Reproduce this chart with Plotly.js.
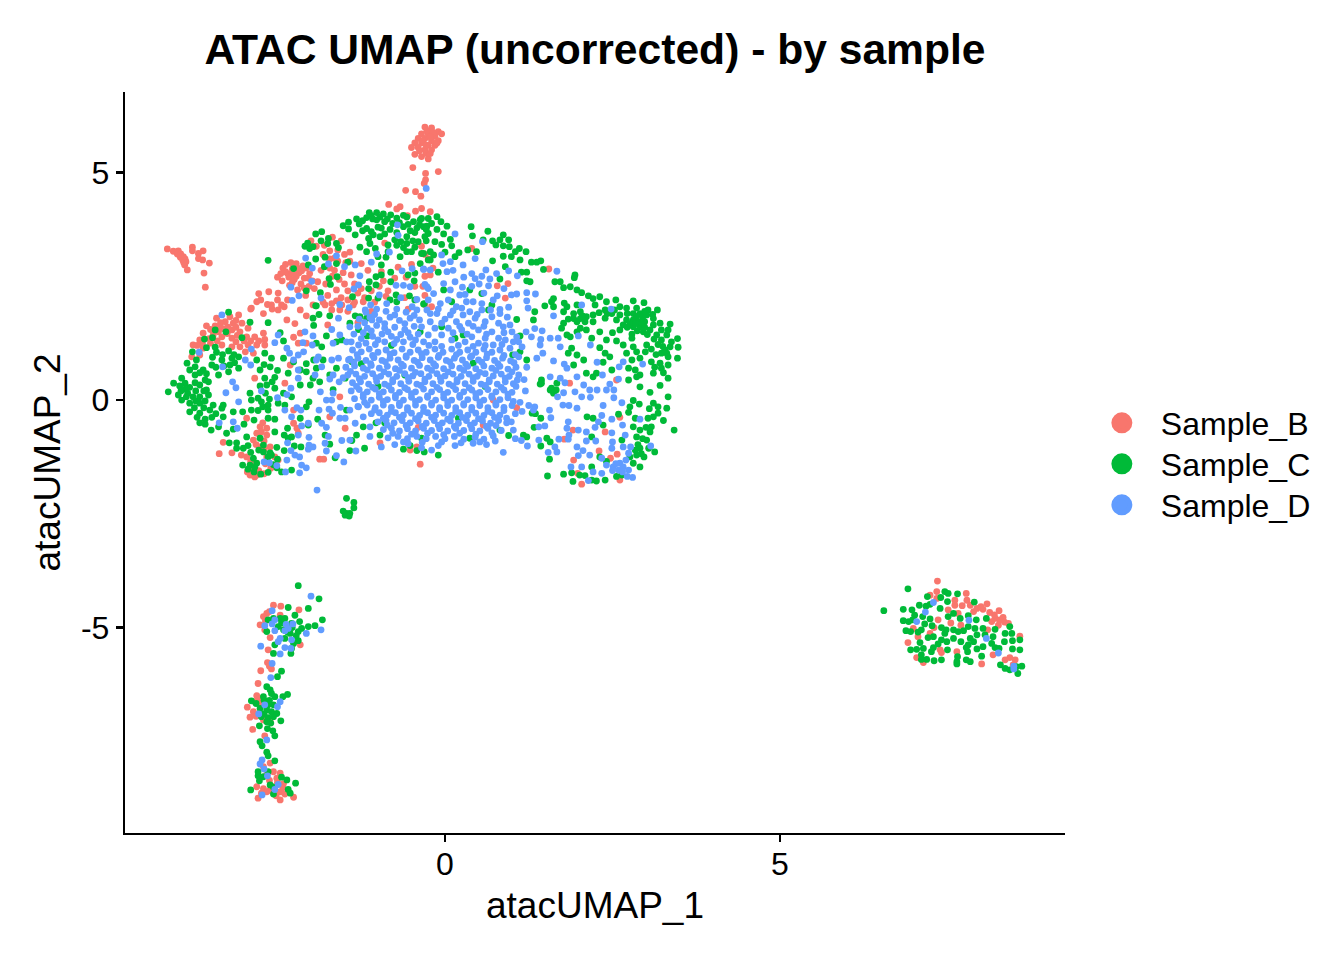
<!DOCTYPE html>
<html><head><meta charset="utf-8">
<script src="https://cdn.plot.ly/plotly-3.0.1.min.js"></script>
<style>html,body{margin:0;padding:0;background:#fff}#chart{width:1344px;height:960px}</style>
</head><body><div id="chart"></div>
<script>
const titleText = 'ATAC UMAP (uncorrected) - by sample';
const xLabel = 'atacUMAP_1';
const yLabel = 'atacUMAP_2';
const xTicks = [0, 5];
const xTickLabels = ['0', '5'];
const yTicks = [-5, 0, 5];
const yTickLabels = ['-5', '0', '5'];
const sampleNames = ['Sample_B', 'Sample_C', 'Sample_D'];
const sampleColors = ['#F8766D', '#00BA38', '#619CFF'];

const sampleB_top = [[-0.3,6.0],[-0.2,5.98],[-0.1,5.9],[-0.35,5.85],[-0.25,5.85],[-0.15,5.8],[-0.05,5.85],[-0.4,5.75],[-0.3,5.75],[-0.2,5.7],[-0.1,5.7],[-0.45,5.65],[-0.35,5.65],[-0.25,5.6],[-0.15,5.6],[-0.5,5.55],[-0.4,5.55],[-0.3,5.5],[-0.2,5.5],[-0.45,5.4],[-0.35,5.35],[-0.25,5.3],[-0.28,5.42],[-0.48,5.11],[-0.29,4.98],[-0.1,5.02],[-0.29,4.84],[-0.31,4.76],[-0.587,4.61],[-0.44,4.58],[-0.36,4.48],[-0.84,4.3],[-0.72,4.2],[-0.67,4.25],[-0.44,4.15],[-0.35,4.21],[-0.22,4.14],[-0.56,4.05],[-0.27,5.92],[-0.18,5.88],[-0.33,5.7],[-0.22,5.78],[-0.12,5.65],[-0.28,5.6],[-0.38,5.48],[-0.22,5.42]];
const sampleB_left = [[-4.144,3.32],[-4.055,3.27],[-3.98,3.28],[-3.995,3.21],[-3.945,3.21],[-3.905,3.15],[-3.915,3.08],[-3.866,3.04],[-3.885,2.97],[-3.846,2.86],[-3.77,3.36],[-3.77,3.28],[-3.68,3.22],[-3.61,3.28],[-3.68,3.11],[-3.617,3.08],[-3.517,3.01],[-3.597,2.79],[-3.577,2.48],[-3.95,3.14],[-3.88,3.1],[-3.9,3.02]];
const sampleB_upper = [[-2.43,2.62],[-2.5,2.7],[-2.35,2.78],[-2.28,2.88],[-2.22,3.0],[-2.3,3.02],[-2.42,2.9],[-2.12,2.95],[-2.18,2.8],[-2.25,2.65],[-2.1,2.68],[-2.02,2.78],[-2.15,2.55],[-2.03,2.5],[-2.32,2.52],[-2.2,2.42],[-2.08,2.3],[-1.95,2.45],[-2.65,2.1],[-2.78,2.34],[-2.75,2.2],[-2.63,2.38],[-2.49,2.35],[-2.5,2.2],[-2.4,2.05],[-2.58,2.0],[-2.35,2.2],[-2.9,2.0],[-1.9,2.6],[-1.85,2.85],[-1.72,2.9],[-1.65,2.85],[-1.58,2.65],[-1.5,2.55],[-1.62,2.42],[-1.75,2.3],[-1.82,2.15],[-1.55,2.25],[-1.45,2.4],[-1.3,2.35],[-1.4,2.75],[-1.35,2.15],[-1.2,2.25],[-1.1,2.4],[-1.05,2.15],[-0.85,2.4],[-0.92,2.62],[-0.75,2.68],[-0.95,2.82],[-1.15,2.85],[-1.25,3.0],[-1.8,3.4],[-1.68,3.58],[-1.6,3.3],[-1.5,3.2],[-1.42,3.25],[-1.55,3.5],[-1.72,3.28],[-1.82,3.2],[-1.92,3.38],[-2.0,3.5],[-1.65,3.12],[-1.42,3.05],[-0.7,2.92],[-0.58,2.7],[-0.45,2.5],[-0.3,2.72],[-0.6,2.25],[-0.3,2.3],[-0.5,2.98],[-0.9,3.45],[-0.35,3.38],[-0.25,3.1],[-0.3,2.1],[-0.55,2.0],[-0.2,2.05],[-0.18,2.9],[-2.38,2.98],[-2.33,2.7],[-2.22,2.72],[-2.27,2.78],[-2.14,2.84],[-2.07,2.9],[-2.2,2.9],[-2.38,2.82],[-2.45,2.78],[-2.28,2.58],[-2.1,2.46],[-1.98,2.62],[-2.04,2.68],[-1.78,2.55],[-1.68,2.72],[-1.52,2.8],[-1.48,3.02],[-1.6,3.05],[-1.72,3.1],[-1.35,2.55],[-1.25,2.45],[-1.45,2.2],[-1.62,2.18],[-0.98,2.5],[-0.88,2.28]];
const sampleB_lobe = [[-3.21,1.83],[-3.08,1.87],[-3.41,1.8],[-3.28,1.72],[-3.16,1.69],[-3.03,1.69],[-3.56,1.63],[-3.43,1.63],[-3.31,1.57],[-3.18,1.54],[-3.06,1.5],[-2.94,1.58],[-3.61,1.47],[-3.46,1.43],[-3.33,1.39],[-3.18,1.36],[-2.96,1.39],[-2.84,1.39],[-2.71,1.47],[-2.69,1.33],[-3.66,1.32],[-3.76,1.21],[-3.61,1.14],[-3.33,1.21],[-3.18,1.17],[-3.06,1.17],[-2.94,1.21],[-2.81,1.21],[-2.98,1.06],[-2.86,1.03],[-2.69,1.21],[-3.66,0.99],[-3.78,0.95],[-3.5,1.25],[-3.7,1.2],[-3.5,1.55],[-3.35,1.7],[-2.81,2.16],[-2.59,2.09],[-2.44,2.09],[-2.36,1.76],[-2.24,1.68],[-2.89,2.02],[-2.71,1.9],[-2.16,1.98],[-2.07,1.85],[-2.26,1.38],[-2.16,1.47],[-1.97,2.09],[-1.79,2.09],[-1.69,2.12],[-1.54,2.09],[-1.37,2.09],[-1.22,2.16],[-1.69,1.98],[-1.57,1.98],[-2.49,1.98],[-2.19,1.25],[-2.07,1.25],[-1.75,1.65],[-1.3,1.7],[-1.45,1.95],[-1.1,1.95],[-3.24,1.6],[-3.12,1.6],[-3.38,1.5],[-3.25,1.46],[-3.1,1.42],[-3.0,1.3],[-3.12,1.28],[-2.9,1.3],[-3.52,1.35],[-3.4,1.3],[-3.62,1.24],[-2.78,1.3],[-3.12,1.75],[-3.36,1.62]];
const sampleB_low = [[-2.84,0.48],[-2.39,0.37],[-2.31,0.77],[-2.76,-0.59],[-2.66,-0.62],[-2.81,-0.73],[-2.74,-0.7],[-2.66,-0.77],[-2.86,-0.88],[-2.76,-1.03],[-2.61,-1.03],[-3.31,-0.93],[-3.37,-1.18],[-3.18,-1.16],[-3.04,-1.21],[-2.96,-1.25],[-2.66,-1.25],[-2.54,-1.25],[-2.49,-1.32],[-2.91,-1.65],[-2.84,-1.69],[-2.81,-1.65],[-2.86,-1.47],[-1.87,-1.3],[-1.81,-1.3],[-2.96,-0.4],[-2.26,-0.51],[-2.21,-0.62],[-2.19,-0.73],[-2.26,-0.22],[-1.72,-0.37],[-1.57,0.07],[-1.49,-0.62],[-0.97,-0.94],[-0.37,-1.41],[-0.52,-1.1],[-0.42,-1.03],[-2.7,-0.9],[-2.68,-1.4],[-2.6,-1.5],[-2.78,-1.55],[-2.9,-1.35],[-2.72,-0.5],[-2.82,-0.98],[-2.7,-1.08],[-2.95,-1.58],[-2.7,-1.62]];
const sampleB_right = [[1.55,2.88],[0.94,2.56],[0.9,2.24],[0.78,2.51],[0.4,3.33],[2.61,-0.38],[2.39,-0.7],[1.91,-0.66],[1.78,-0.86],[1.86,0.37],[2.56,0.44],[1.92,-1.32],[2.57,-1.19],[2.3,-1.12],[2.47,-1.28],[1.98,-1.61],[2.04,-1.85],[2.61,-1.76],[1.07,-0.17],[0.72,0.0],[0.57,-0.55],[-0.3,3.2],[-0.22,2.75],[-0.33,2.5],[-0.4,-0.6]];
const sampleB_stem = [[-2.56,-4.51],[-2.45,-4.53],[-2.18,-4.61],[-2.66,-4.69],[-2.71,-4.76],[-2.76,-4.94],[-2.69,-5.05],[-2.61,-5.22],[-2.16,-5.38],[-2.64,-5.49],[-2.46,-4.73],[-2.65,-5.77],[-2.59,-5.91],[-2.62,-5.85],[-2.75,-5.95],[-2.79,-6.23],[-2.81,-6.5],[-2.95,-6.75],[-2.86,-6.85],[-2.91,-6.97],[-2.84,-6.63],[-2.77,-6.56],[-2.61,-7.07],[-2.71,-7.03],[-2.87,-7.24],[-2.69,-7.38],[-2.61,-7.98],[-2.71,-8.06],[-2.56,-8.17],[-2.46,-8.2],[-2.66,-8.24],[-2.51,-8.31],[-2.41,-8.43],[-2.81,-8.5],[-2.71,-8.54],[-2.66,-8.61],[-2.46,-8.61],[-2.39,-8.66],[-2.26,-8.73],[-2.79,-8.75],[-2.46,-8.79],[-2.61,-8.57],[-2.74,-8.64],[-2.54,-8.5],[-2.58,-8.6],[-2.52,-8.7],[-2.42,-8.52],[-2.5,-8.4],[-2.62,-8.36],[-2.68,-4.85],[-2.62,-4.65],[-2.76,-6.68],[-2.82,-6.95]];
const sampleB_island = [[7.35,-3.98],[7.24,-4.29],[7.34,-4.21],[7.34,-4.36],[7.78,-4.25],[7.79,-4.4],[7.61,-4.4],[7.61,-4.51],[7.84,-4.51],[8.0,-4.54],[8.09,-4.48],[8.03,-4.6],[7.89,-4.65],[8.13,-4.67],[8.27,-4.63],[8.21,-4.8],[8.28,-4.83],[8.26,-4.95],[8.16,-4.87],[8.33,-4.78],[8.41,-4.91],[7.36,-4.83],[7.51,-4.61],[7.66,-4.69],[7.06,-5.2],[6.91,-5.33],[6.99,-5.02],[7.24,-5.13],[7.39,-5.49],[7.64,-5.53],[7.41,-5.55],[7.04,-5.66],[7.14,-5.77],[8.01,-5.8],[8.18,-5.6],[8.58,-5.19],[8.43,-5.66],[8.51,-5.71],[8.48,-5.82],[8.36,-5.71],[7.72,-4.52],[7.94,-4.58],[8.2,-4.72],[8.35,-4.88],[7.55,-4.9],[7.7,-4.95],[7.3,-5.0],[8.1,-5.05]];

const sampleC_upperLeft = [[-2.64,3.07],[-2.26,2.89],[-2.09,3.38],[-2.02,3.33],[-1.93,3.65],[-1.97,3.37],[-1.84,3.7],[-1.74,3.55],[-1.75,3.44],[-1.62,3.44],[-1.59,3.35],[-2.04,2.97],[-1.93,3.1],[-1.79,3.14],[-1.8,2.93],[-1.62,3.0],[-1.45,3.03],[-1.73,2.67],[-1.61,2.71],[-1.71,2.54],[-2.07,2.4],[-1.86,2.36],[-1.93,2.07],[-1.52,3.83],[-1.44,3.91],[-1.44,3.76],[-1.32,3.98],[-1.28,3.87],[-1.17,4.01],[-1.13,4.12],[-1.17,3.77],[-1.02,4.12],[-1.02,3.96],[-0.92,4.09],[-0.81,4.07],[-0.62,4.06],[-0.9,3.92],[-0.78,3.88],[-0.57,4.02],[-0.47,3.92],[-0.35,3.99],[-0.25,3.99],[-0.38,3.85],[-0.27,3.82],[-1.0,3.8],[-0.62,3.81],[-0.9,3.65],[-1.34,3.63],[-1.14,3.55],[-1.07,3.63],[-0.97,3.59],[-0.57,3.59],[-0.45,3.68],[-0.3,3.59],[-0.66,3.48],[-0.57,3.44],[-0.4,3.48],[-1.12,3.44],[-0.85,3.41],[-1.27,3.36],[-1.04,3.33],[-1.17,3.26],[-0.85,3.26],[-0.57,3.26],[-0.5,3.26],[-0.32,3.22],[-0.22,3.08],[-1.0,3.15],[-0.88,3.14],[-0.67,3.15],[-0.95,2.97],[-0.37,3.0],[-0.81,2.81],[-0.45,2.79],[-0.55,2.75],[-1.03,2.71],[-0.95,2.75],[-0.81,2.6],[-0.46,2.62],[-1.13,2.6],[-1.03,2.53],[-1.14,2.45],[-1.38,2.27],[-1.14,2.24],[-0.73,2.31],[-0.53,2.29],[-0.45,2.2],[-0.31,2.12],[-1.0,2.24],[-0.72,2.16],[-0.82,2.2],[-1.23,3.94],[-1.08,3.98],[-1.1,4.05],[-0.97,4.02],[-0.86,3.98],[-0.72,4.0],[-0.68,3.9],[-0.55,3.86],[-0.42,3.78],[-0.52,3.72],[-0.82,3.75],[-0.72,3.68],[-0.95,3.78],[-1.1,3.7],[-1.23,3.72],[-0.48,3.5],[-0.75,3.52],[-0.62,3.35],[-0.72,3.4],[-0.45,3.36],[-1.85,3.5],[-2.05,3.45]];
const sampleC_topMid = [[-0.37,3.96],[-0.32,3.81],[-0.2,3.88],[-0.12,4.03],[-0.06,3.92],[0.03,3.82],[-0.25,3.66],[-0.15,3.48],[0.08,3.53],[-0.05,3.42],[0.1,3.39],[-0.22,3.26],[-0.35,3.22],[0.21,3.24],[0.34,3.3],[0.47,3.26],[-0.25,3.08],[-0.1,2.81],[-0.17,3.19],[0.55,2.34],[0.37,2.42],[-0.02,2.42],[0.1,2.16],[0.7,2.09],[-0.32,2.11],[0.65,1.98],[0.27,1.43],[0.15,1.36],[-0.05,1.61],[1.01,0.99],[1.12,1.06],[1.22,0.88],[1.44,0.44],[1.42,0.35],[1.59,0.26],[1.66,0.22],[1.3,-0.29],[1.35,-0.3],[0.82,-0.66],[0.37,-0.84],[-0.1,-1.21],[-0.31,-1.14],[-0.35,-0.84],[0.42,0.81],[-0.42,-1.11],[-0.52,-1.0],[-0.62,-1.08],[-0.97,-0.77],[-0.37,1.5],[-0.8,1.2],[-1.0,0.3],[-0.6,0.55],[0.6,0.3],[0.2,-0.4],[-0.9,-0.5],[-1.25,0.8],[-0.28,3.75],[-0.12,3.75],[-0.02,3.65],[-0.28,3.5],[0.0,3.25],[0.15,3.15]];
const sampleC_right = [[0.39,3.81],[0.64,3.71],[0.41,3.61],[0.87,3.63],[0.57,3.52],[0.71,3.5],[0.82,3.52],[0.95,3.52],[0.76,3.41],[0.87,3.39],[0.96,3.37],[1.11,3.33],[1.21,3.26],[1.05,3.26],[0.87,3.16],[0.99,3.15],[1.12,3.08],[0.71,3.06],[1.29,3.03],[1.37,3.03],[1.43,3.06],[0.9,2.93],[1.47,2.87],[1.22,2.81],[1.14,2.81],[1.94,2.75],[1.93,2.69],[0.82,2.66],[1.22,2.62],[1.27,2.6],[1.64,2.6],[1.72,2.6],[1.77,2.47],[1.87,2.49],[1.97,2.42],[2.04,2.36],[2.14,2.29],[2.21,2.23],[2.31,2.27],[2.55,2.2],[2.81,2.18],[2.97,2.14],[1.62,2.23],[1.59,2.16],[1.78,2.13],[1.49,2.07],[1.62,2.05],[1.82,2.05],[1.97,2.09],[2.24,2.09],[2.41,2.16],[2.61,2.05],[2.71,2.02],[2.86,2.02],[3.03,1.98],[3.17,1.98],[1.34,1.94],[1.77,1.94],[1.92,1.9],[2.02,1.94],[2.11,1.83],[2.21,1.87],[2.39,1.98],[2.49,1.9],[2.61,1.87],[2.81,1.9],[2.91,1.9],[3.01,1.87],[1.32,1.76],[1.07,1.77],[1.92,1.79],[2.02,1.79],[2.09,1.72],[2.39,1.8],[2.56,1.76],[2.71,1.76],[2.81,1.76],[2.89,1.72],[2.98,1.72],[3.11,1.79],[1.77,1.69],[2.21,1.72],[2.66,1.65],[2.81,1.61],[2.91,1.61],[3.11,1.65],[3.21,1.69],[3.36,1.67],[1.74,1.58],[2.02,1.58],[2.11,1.54],[2.31,1.5],[2.61,1.54],[2.96,1.5],[3.06,1.54],[3.23,1.54],[3.33,1.54],[1.82,1.43],[1.97,1.5],[2.5,1.48],[2.79,1.45],[3.16,1.43],[3.31,1.43],[3.47,1.35],[1.12,1.41],[1.87,1.39],[2.19,1.36],[2.41,1.32],[2.56,1.3],[2.79,1.36],[3.23,1.32],[3.38,1.28],[3.01,1.21],[2.81,1.17],[2.66,1.21],[3.48,1.16],[3.36,1.17],[2.31,1.15],[1.89,1.14],[2.99,1.06],[2.71,1.03],[2.86,1.06],[3.31,1.03],[3.23,1.03],[2.39,1.03],[2.46,0.95],[1.97,0.99],[1.84,1.03],[3.47,0.92],[2.07,0.88],[3.33,0.95],[2.79,0.88],[2.91,0.92],[2.36,0.83],[3.08,0.84],[3.21,0.81],[3.33,0.77],[1.92,0.77],[2.49,0.66],[2.84,0.66],[2.74,0.7],[2.91,0.55],[3.11,0.59],[3.23,0.7],[3.33,0.48],[2.11,0.59],[2.21,0.51],[2.26,0.59],[2.74,0.44],[2.86,0.51],[3.21,0.32],[2.91,0.29],[3.06,0.17],[3.33,0.07],[1.67,0.37],[1.57,0.22],[1.44,0.37],[1.62,0.15],[2.81,-0.01],[2.9,-0.09],[3.11,-0.07],[3.18,-0.15],[3.31,-0.18],[2.76,-0.15],[3.05,-0.19],[2.74,-0.27],[3.18,-0.29],[2.59,-0.31],[3.11,-0.37],[3.03,-0.4],[3.26,-0.45],[2.12,-0.37],[2.21,-0.4],[1.43,-0.4],[2.84,-0.4],[2.81,-0.59],[3.08,-0.59],[2.36,-0.55],[2.91,-0.66],[3.42,-0.66],[3.06,-0.7],[1.33,-0.6],[2.86,-0.81],[3.01,-0.88],[0.95,-0.78],[1.17,-0.77],[1.22,-0.81],[1.52,-0.84],[1.57,-0.92],[2.19,-0.81],[1.43,-1.01],[2.91,-1.06],[3.13,-1.14],[2.64,-0.88],[2.86,-1.21],[2.97,-1.25],[1.56,-1.3],[2.91,-1.47],[2.19,-1.47],[2.31,-1.25],[2.41,-1.35],[1.53,-1.67],[1.77,-1.63],[1.89,-1.6],[2.01,-1.65],[2.09,-1.66],[2.19,-1.76],[2.26,-1.78],[1.91,-1.79],[2.39,-1.76],[2.56,-1.68],[2.64,-1.65],[2.81,-1.39],[2.76,-1.25],[2.84,-1.1],[2.72,1.9],[2.86,1.84],[2.95,1.82],[2.76,1.68],[2.85,1.68],[2.94,1.68],[2.72,1.6],[2.98,1.6],[2.87,1.52],[3.02,1.44],[3.12,1.34],[3.18,1.22],[3.25,1.18],[3.28,1.1],[3.15,1.0],[3.08,1.12],[3.13,0.72],[3.26,0.6],[2.98,1.95],[3.1,1.88],[2.42,1.9],[2.53,1.98],[2.3,1.92],[2.05,1.85],[1.97,1.72],[1.84,1.78],[3.0,-0.6],[2.95,-0.85],[2.93,-1.18],[3.04,-1.06],[2.88,-0.98]];
const sampleC_lobe = [[-3.23,1.93],[-2.91,1.71],[-2.64,1.7],[-3.27,1.5],[-3.43,1.54],[-3.59,1.34],[-3.47,1.37],[-3.03,1.37],[-3.77,1.06],[-3.56,1.15],[-3.43,1.16],[-3.23,1.08],[-3.41,1.05],[-3.85,0.81],[-3.71,0.88],[-3.47,0.94],[-3.33,0.88],[-3.18,0.92],[-3.08,0.95],[-3.21,0.77],[-3.48,0.77],[-3.73,0.73],[-3.61,0.66],[-3.08,0.7],[-3.23,0.62],[-3.81,0.66],[-3.38,0.55],[-3.93,0.48],[-3.73,0.55],[-4.05,0.37],[-3.88,0.37],[-3.73,0.38],[-3.58,0.44],[-3.53,0.4],[-3.96,0.31],[-3.81,0.28],[-3.66,0.33],[-4.13,0.18],[-3.56,0.22],[-3.98,0.11],[-3.86,0.07],[-3.76,0.07],[-3.66,0.07],[-3.53,0.11],[-3.93,0.0],[-3.81,-0.07],[-3.66,-0.07],[-3.46,-0.11],[-3.31,-0.11],[-3.81,-0.26],[-3.66,-0.29],[-3.51,-0.22],[-3.33,-0.18],[-3.58,-0.42],[-3.66,-0.5],[-3.31,-0.37],[-3.58,-0.53],[-3.49,-0.66],[-3.38,-0.59],[-3.26,-0.73],[-3.16,-0.64],[-3.16,-0.26],[-3.02,-0.26],[-3.0,-0.53],[-2.91,0.15],[-2.89,0.0],[-2.79,0.04],[-2.74,-0.04],[-2.89,-0.22],[-2.79,-0.23],[-2.64,-0.11],[-2.64,-0.22],[-2.81,0.88],[-2.69,1.03],[-2.59,0.92],[-2.76,0.66],[-2.61,0.73],[-2.69,0.48],[-2.54,0.5],[-2.76,0.31],[-2.66,0.33],[-2.54,0.26],[-2.41,0.15],[-2.49,-0.07],[-2.39,-0.11],[-2.29,0.07],[-2.54,-0.42],[-2.85,-0.44],[-2.64,-0.4],[-2.54,-0.7],[-2.35,-0.62],[-2.4,-0.77],[-2.29,-0.81],[-2.96,-0.81],[-3.22,-0.94],[-3.11,-0.94],[-3.11,-1.06],[-3.01,-1.06],[-2.94,-1.0],[-2.76,-0.84],[-2.71,-0.99],[-2.86,-1.28],[-2.71,-1.14],[-2.61,-1.16],[-2.51,-1.04],[-2.4,-1.11],[-2.25,-1.01],[-2.15,-1.03],[-3.02,-1.43],[-2.91,-1.43],[-2.81,-1.39],[-2.94,-1.52],[-2.85,-1.58],[-2.75,-1.63],[-2.64,-1.59],[-2.51,-1.49],[-2.44,-1.58],[-2.29,-1.54],[-2.64,-1.25],[-2.59,-1.21],[-2.46,1.48],[-2.41,1.3],[-2.41,0.92],[-2.26,0.84],[-2.07,0.8],[-1.96,0.88],[-2.34,0.59],[-2.16,0.66],[-2.07,0.62],[-2.16,0.33],[-2.01,0.33],[-1.97,0.48],[-1.87,0.4],[-2.03,-0.04],[-2.07,-0.15],[-2.16,-0.4],[-1.9,-0.42],[-2.04,-0.55],[-2.34,-0.84],[-1.92,2.07],[-1.88,1.88],[-1.72,1.85],[-1.97,1.8],[-1.96,1.64],[-1.77,1.41],[-1.92,1.25],[-1.84,1.17],[-1.62,1.28],[-1.54,1.32],[-1.42,1.69],[-1.34,1.85],[-1.27,1.83],[-1.17,1.8],[-1.29,1.55],[-1.16,1.41],[-1.39,0.84],[-1.72,0.55],[-1.62,0.7],[-1.82,0.88],[-1.92,0.7],[-1.49,0.48],[-1.67,0.23],[-1.79,-0.77],[-1.72,-0.97],[-1.32,-0.77],[-1.2,-1.06],[-1.39,-0.89],[-1.42,-1.11],[-1.64,-1.27],[-1.03,-0.5],[-1.47,-0.22],[-1.22,-0.59],[-1.47,-2.16],[-1.36,-2.25],[-1.36,-2.37],[-1.52,-2.44],[-1.47,-2.49],[-1.42,-2.49],[-1.49,-2.53],[-1.43,-2.55],[-3.88,0.24],[-3.94,0.2],[-3.72,0.2],[-3.6,0.2],[-3.84,0.15],[-3.72,-0.02],[-3.58,-0.02],[-3.74,-0.17],[-3.6,-0.17],[-3.7,-0.38],[-3.48,-0.38],[-3.42,-0.3],[-3.66,0.6],[-3.56,0.58],[-3.42,0.72],[-3.3,0.75],[-3.14,0.82],[-3.32,1.0],[-3.15,1.0],[-2.68,0.15],[-2.62,0.02],[-2.72,-0.15],[-2.58,0.4],[-2.7,0.78],[-2.5,0.65],[-2.78,-1.1],[-2.9,-1.15],[-2.5,-1.3],[-2.56,-1.42],[-2.84,-1.48]];
const sampleC_stem = [[-2.19,-4.08],[-1.88,-4.37],[-2.04,-4.58],[-1.83,-4.83],[-2.34,-4.56],[-1.94,-4.96],[-2.04,-4.98],[-2.24,-4.73],[-2.17,-4.87],[-2.56,-4.8],[-2.46,-4.8],[-2.39,-4.8],[-2.64,-4.83],[-2.29,-4.91],[-2.49,-4.98],[-2.41,-5.05],[-2.19,-5.09],[-2.14,-5.02],[-2.31,-5.13],[-2.39,-5.24],[-2.19,-5.29],[-2.26,-5.35],[-2.54,-5.38],[-2.29,-5.46],[-2.56,-5.57],[-2.3,-5.57],[-2.66,-5.09],[-2.44,-5.96],[-2.5,-6.08],[-2.66,-6.3],[-2.61,-6.37],[-2.59,-6.45],[-2.35,-6.47],[-2.42,-6.52],[-2.54,-6.52],[-2.89,-6.61],[-2.82,-6.67],[-2.71,-6.52],[-2.56,-6.7],[-2.64,-6.7],[-2.76,-6.78],[-2.66,-6.81],[-2.59,-6.85],[-2.51,-6.89],[-2.74,-6.96],[-2.64,-6.98],[-2.56,-6.96],[-2.45,-7.05],[-2.66,-7.07],[-2.77,-7.16],[-2.65,-7.22],[-2.57,-7.27],[-2.54,-7.38],[-2.76,-7.51],[-2.73,-7.6],[-2.66,-7.74],[-2.64,-7.82],[-2.54,-7.93],[-2.79,-8.17],[-2.79,-8.26],[-2.71,-8.28],[-2.77,-8.37],[-2.44,-8.29],[-2.36,-8.35],[-2.61,-8.46],[-2.56,-8.51],[-2.23,-8.42],[-2.34,-8.56],[-2.31,-8.64],[-2.9,-8.57],[-2.56,-8.66],[-2.64,-8.17],[-2.36,-4.95],[-2.44,-4.9],[-2.28,-5.0],[-2.22,-5.18],[-2.35,-5.1],[-2.7,-6.6],[-2.62,-6.6],[-2.7,-6.9],[-2.6,-7.1]];
const sampleC_island = [[6.55,-4.63],[6.91,-4.15],[6.84,-4.6],[6.97,-4.61],[7.08,-4.51],[7.2,-4.32],[7.46,-4.21],[7.51,-4.25],[7.65,-4.26],[7.4,-4.34],[7.5,-4.43],[7.24,-4.49],[7.18,-4.53],[7.39,-4.58],[7.9,-4.44],[7.01,-4.73],[6.84,-4.85],[6.92,-4.87],[6.98,-4.83],[7.13,-4.76],[7.24,-4.81],[7.51,-4.76],[7.59,-4.69],[7.69,-4.8],[7.81,-4.74],[7.93,-4.83],[8.08,-4.8],[6.88,-5.07],[6.95,-5.09],[7.16,-4.92],[7.27,-4.96],[7.06,-5.1],[7.11,-5.05],[7.41,-5.0],[7.48,-5.05],[7.46,-5.13],[7.59,-5.05],[7.66,-5.09],[7.74,-5.07],[7.81,-4.98],[7.91,-5.02],[8.03,-5.02],[8.21,-5.04],[8.43,-4.98],[7.21,-5.22],[7.29,-5.2],[7.41,-5.27],[7.49,-5.31],[7.59,-5.24],[7.7,-5.31],[7.84,-5.24],[7.94,-5.16],[8.06,-5.16],[8.18,-5.2],[8.36,-5.13],[8.46,-5.13],[7.09,-5.33],[7.36,-5.36],[7.81,-5.38],[7.89,-5.31],[8.16,-5.35],[8.35,-5.31],[8.47,-5.29],[8.58,-5.27],[7.14,-5.46],[6.95,-5.49],[7.04,-5.48],[7.29,-5.44],[7.5,-5.49],[7.78,-5.44],[7.94,-5.47],[8.03,-5.42],[8.21,-5.44],[8.27,-5.46],[8.47,-5.47],[8.58,-5.49],[7.26,-5.53],[7.8,-5.53],[7.11,-5.6],[8.01,-5.63],[7.65,-5.64],[7.11,-5.7],[7.19,-5.7],[7.3,-5.73],[7.41,-5.71],[7.64,-5.75],[7.78,-5.71],[7.84,-5.75],[8.29,-5.82],[8.36,-5.9],[8.53,-5.86],[8.61,-5.85],[8.43,-5.93],[8.55,-6.01],[7.64,-5.8]];

const sampleD_upperLeft = [[-2.08,3.12],[-1.98,2.9],[-1.74,2.99],[-1.99,2.61],[-2.3,2.48],[-2.18,2.29],[-2.28,2.19],[-1.85,2.24],[-1.62,3.17],[-1.5,2.93],[-1.34,2.97],[-1.27,2.73],[-1.29,2.53],[-1.36,2.44],[-1.57,2.1],[-1.43,2.03],[-1.1,3.03],[-1.02,3.21],[-0.83,3.25],[-0.71,3.85],[-0.7,3.62],[-0.64,2.84],[-0.49,2.89],[-0.32,2.88],[-0.73,2.52],[-0.62,2.52],[-0.52,2.49],[-0.3,2.54],[-0.25,2.45],[-0.66,2.25],[-0.98,2.31],[-0.87,2.12],[-1.11,2.09],[-0.42,2.21],[-0.49,2.05],[-0.25,2.2]];
const sampleD_left = [[-3.33,1.87],[-3.67,1.05],[-2.49,1.43],[-2.54,1.26],[-2.89,1.12],[-2.98,0.88],[-3.32,0.73],[-2.9,0.77],[-2.36,1.14],[-2.32,1.03],[-2.12,1.26],[-2.26,0.88],[-2.19,0.99],[-2.11,1.06],[-2.09,1.5],[-1.97,1.41],[-1.98,1.21],[-1.89,0.95],[-1.84,0.73],[-1.94,0.55],[-2.19,0.66],[-2.19,0.48],[-3.17,0.4],[-3.12,0.27],[-3.27,0.16],[-2.74,0.2],[-3.08,-0.04],[-2.5,0.05],[-2.36,0.12],[-2.3,0.26],[-2.39,-0.22],[-2.21,-0.17],[-2.15,-0.22],[-2.29,-0.37],[-3.37,-0.5],[-3.16,-0.48],[-3.1,-0.62],[-2.14,-0.57],[-2.04,-0.51],[-2.19,-0.77],[-2.03,-0.82],[-2.35,-0.94],[-2.03,-0.99],[-1.97,-1.03],[-2.04,-1.08],[-2.3,-1.11],[-2.24,-1.21],[-2.17,-1.25],[-2.7,-1.36],[-2.62,-1.38],[-2.51,-1.44],[-2.36,-1.32],[-2.14,-1.43],[-2.07,-1.49],[-2.38,-1.58],[-2.17,-1.6],[-1.91,-1.98],[-1.84,-0.51],[-1.77,-0.6],[-1.74,-0.8],[-1.79,-0.95],[-1.77,-1.12],[-1.62,-1.22],[-1.51,-1.36],[-1.54,-0.89],[-1.42,-0.88],[-1.33,-1.12],[-1.88,-0.22],[-1.73,-0.2],[-1.68,-0.29],[-1.57,-0.4],[-1.49,-0.4],[-1.56,-0.16],[-1.86,0.18],[-1.77,0.0],[-1.69,0.0],[-1.67,0.15],[-1.58,0.4],[-1.72,0.46],[-1.67,0.55],[-1.69,0.88],[-1.59,0.92],[-1.44,0.88],[-1.52,0.49],[-1.92,0.88],[-1.69,1.55],[-1.59,1.8],[-1.57,1.43],[-1.67,1.25],[-1.47,1.28],[-1.42,1.61],[-1.29,1.21],[-1.19,1.98],[-1.09,1.76],[-1.12,-0.8],[-1.12,-0.59],[-1.34,-0.51],[-0.95,-1.03],[-1.29,-0.15],[-1.22,-0.37],[-1.42,-0.22]];
const sampleD_coreUpper = [[0.15,3.65],[0.56,3.48],[-0.05,3.19],[0.45,3.11],[-0.03,3.0],[0.08,3.04],[0.27,2.97],[-0.32,2.87],[-0.22,2.86],[0.03,2.82],[0.61,2.86],[0.77,2.78],[0.95,2.84],[1.08,2.73],[0.4,2.78],[0.45,2.67],[0.67,2.66],[0.15,2.6],[-0.02,2.56],[0.26,2.48],[0.51,2.55],[0.65,2.51],[-0.27,2.49],[-0.17,2.34],[0.22,2.31],[0.42,2.16],[0.78,2.29],[0.99,2.31],[1.07,2.33],[1.22,2.36],[1.35,2.33],[1.22,2.18],[1.24,2.02],[0.95,2.04],[0.82,1.99],[0.05,2.2],[0.32,2.16],[-0.07,2.12],[0.17,2.05],[-0.27,1.98],[0.37,1.94],[0.55,1.98],[-0.12,1.9],[0.08,1.87],[0.27,1.87],[0.7,1.83],[0.82,1.9],[0.93,1.82],[0.45,1.8],[0.6,1.72],[-0.22,1.72],[-0.05,1.69],[0.17,1.72],[0.35,1.69],[0.8,1.69],[0.87,1.61],[0.97,1.65],[-0.35,1.61],[-0.15,1.58],[0.05,1.58],[0.25,1.54],[0.5,1.54],[0.7,1.5],[1.0,1.5],[1.07,1.39],[-0.25,1.43],[-0.05,1.43],[0.4,1.39],[0.6,1.36],[0.8,1.36],[0.9,1.32],[1.02,1.28],[-0.32,1.28],[-0.15,1.28],[0.1,1.32],[0.3,1.28],[0.5,1.25],[0.72,1.21],[0.97,1.14],[1.15,1.17]];
const sampleD_coreLeftTop = [[-1.18,1.93],[-1.02,2.0],[-0.88,1.95],[-0.72,2.0],[-0.58,1.93],[-0.42,1.98],[-1.28,1.78],[-1.12,1.82],[-0.98,1.76],[-0.82,1.82],[-0.68,1.75],[-0.52,1.8],[-0.38,1.76],[-1.3,1.62],[-1.16,1.58],[-1.02,1.64],[-0.9,1.58],[-0.75,1.6],[-0.6,1.55],[-0.46,1.62],[-1.36,1.45],[-1.22,1.48],[-1.08,1.4],[-0.94,1.45],[-0.8,1.4],[-0.66,1.44],[-0.52,1.38],[-0.4,1.45],[-1.4,1.28],[-1.18,1.25],[-1.04,1.22],[-0.9,1.28],[-0.76,1.24],[-0.62,1.28],[-0.48,1.22]];
const sampleD_core = [
[-1.38,1.1],[-1.25,1.06],[-1.13,1.12],[-1.0,1.05],[-0.88,1.1],[-0.76,1.04],[-0.64,1.12],[-0.52,1.05],[-0.4,1.1],[-0.28,1.05],[-0.15,1.12],[-0.03,1.05],[0.1,1.12],[0.22,1.05],[0.34,1.1],[0.46,1.05],[0.58,1.12],[0.7,1.05],[0.82,1.1],
[-1.42,0.9],[-1.3,0.92],[-1.18,0.87],[-1.06,0.93],[-0.94,0.87],[-0.82,0.92],[-0.7,0.88],[-0.58,0.94],[-0.46,0.87],[-0.34,0.93],[-0.22,0.88],[-0.1,0.94],[0.02,0.87],[0.14,0.92],[0.26,0.88],[0.38,0.94],[0.5,0.88],[0.62,0.93],[0.74,0.87],[0.86,0.92],[0.98,0.86],
[-1.48,0.72],[-1.35,0.75],[-1.22,0.7],[-1.1,0.76],[-0.98,0.7],[-0.86,0.74],[-0.74,0.69],[-0.62,0.75],[-0.5,0.7],[-0.38,0.76],[-0.26,0.7],[-0.14,0.75],[-0.02,0.69],[0.1,0.75],[0.22,0.7],[0.34,0.74],[0.46,0.69],[0.58,0.75],[0.7,0.7],[0.82,0.74],[0.94,0.68],[1.06,0.72],
[-1.45,0.55],[-1.33,0.57],[-1.2,0.52],[-1.08,0.58],[-0.96,0.52],[-0.84,0.57],[-0.72,0.52],[-0.6,0.58],[-0.48,0.53],[-0.36,0.58],[-0.24,0.52],[-0.12,0.58],[0.0,0.53],[0.12,0.57],[0.24,0.52],[0.36,0.57],[0.48,0.52],[0.6,0.58],[0.72,0.53],[0.84,0.57],[0.96,0.52],[1.1,0.55],
[-1.38,0.38],[-1.26,0.4],[-1.14,0.35],[-1.02,0.41],[-0.9,0.35],[-0.78,0.4],[-0.66,0.36],[-0.54,0.41],[-0.42,0.35],[-0.3,0.4],[-0.18,0.36],[-0.06,0.41],[0.06,0.35],[0.18,0.4],[0.3,0.36],[0.42,0.41],[0.54,0.35],[0.66,0.4],[0.78,0.35],[0.9,0.4],[1.02,0.36],
[-1.4,0.2],[-1.28,0.23],[-1.16,0.18],[-1.04,0.24],[-0.92,0.18],[-0.8,0.22],[-0.68,0.17],[-0.56,0.23],[-0.44,0.18],[-0.32,0.24],[-0.2,0.18],[-0.08,0.23],[0.04,0.17],[0.16,0.23],[0.28,0.18],[0.4,0.22],[0.52,0.17],[0.64,0.23],[0.76,0.18],[0.88,0.22],[1.0,0.17],
[-1.35,0.03],[-1.22,0.06],[-1.1,0.0],[-0.98,0.06],[-0.86,0.01],[-0.74,0.05],[-0.62,0.0],[-0.5,0.06],[-0.38,0.01],[-0.26,0.06],[-0.14,0.0],[-0.02,0.05],[0.1,0.0],[0.22,0.06],[0.34,0.01],[0.46,0.05],[0.58,0.0],[0.7,0.06],[0.82,0.01],[0.94,0.05],
[-1.3,-0.14],[-1.16,-0.11],[-1.04,-0.17],[-0.92,-0.11],[-0.8,-0.16],[-0.68,-0.12],[-0.56,-0.17],[-0.44,-0.11],[-0.32,-0.16],[-0.2,-0.11],[-0.08,-0.17],[0.04,-0.12],[0.16,-0.17],[0.28,-0.11],[0.4,-0.16],[0.52,-0.12],[0.64,-0.17],[0.76,-0.11],[0.88,-0.16],[1.0,-0.12],
[-1.1,-0.3],[-0.98,-0.28],[-0.86,-0.33],[-0.74,-0.28],[-0.62,-0.33],[-0.5,-0.29],[-0.38,-0.34],[-0.26,-0.28],[-0.14,-0.33],[-0.02,-0.29],[0.1,-0.34],[0.22,-0.28],[0.34,-0.33],[0.46,-0.29],[0.58,-0.34],[0.7,-0.28],[0.82,-0.33],
[-1.0,-0.48],[-0.88,-0.45],[-0.76,-0.5],[-0.64,-0.45],[-0.52,-0.5],[-0.4,-0.46],[-0.28,-0.51],[-0.16,-0.45],[-0.04,-0.5],[0.08,-0.46],[0.2,-0.51],[0.32,-0.45],[0.44,-0.5],[0.56,-0.46],[0.68,-0.51],[0.8,-0.45],[0.92,-0.5],
[-0.92,-0.65],[-0.8,-0.62],[-0.68,-0.68],[-0.56,-0.63],[-0.44,-0.68],[-0.32,-0.62],[-0.2,-0.67],[-0.08,-0.63],[0.04,-0.68],[0.16,-0.62],[0.28,-0.67],[0.4,-0.63],[0.52,-0.68],[0.64,-0.62],
[-0.85,-0.83],[-0.7,-0.8],[-0.56,-0.85],[-0.42,-0.8],[-0.28,-0.85],[-0.14,-0.8],[0.0,-0.85],[0.14,-0.8],[0.28,-0.86],[0.45,-0.82],[0.58,-0.86],
[-0.75,-0.98],[-0.55,-0.96],[-0.35,-1.05],[-0.2,-1.1],[-0.1,-1.0],[0.15,-1.0],[0.42,-0.95],[0.62,-0.98],[0.75,-0.9]
];
const sampleD_coreFill = [
[-1.31,1.0],[-1.08,0.98],[-0.82,1.01],[-0.58,0.97],[-0.35,1.02],[-0.09,0.98],[0.17,1.0],[0.4,0.97],[0.63,1.01],[0.88,0.98],[1.05,1.0],
[-1.36,0.82],[-1.11,0.8],[-0.89,0.84],[-0.65,0.79],[-0.41,0.83],[-0.17,0.8],[0.07,0.84],[0.31,0.79],[0.55,0.83],[0.79,0.8],[1.03,0.82],
[-1.41,0.63],[-1.16,0.66],[-0.91,0.62],[-0.68,0.65],[-0.44,0.61],[-0.2,0.65],[0.05,0.62],[0.28,0.65],[0.52,0.61],[0.76,0.65],[1.0,0.62],
[-1.28,0.47],[-1.03,0.49],[-0.78,0.45],[-0.55,0.49],[-0.3,0.46],[-0.07,0.49],[0.18,0.45],[0.42,0.49],[0.66,0.44],[0.9,0.48],[1.08,0.44],
[-1.32,0.3],[-1.08,0.28],[-0.84,0.31],[-0.6,0.27],[-0.36,0.32],[-0.12,0.28],[0.12,0.31],[0.36,0.27],[0.6,0.32],[0.84,0.28],[1.06,0.3],
[-1.22,0.12],[-0.98,0.14],[-0.74,0.1],[-0.5,0.14],[-0.26,0.09],[-0.02,0.13],[0.22,0.1],[0.46,0.14],[0.7,0.09],[0.94,0.13],
[-1.2,-0.05],[-0.92,-0.03],[-0.68,-0.07],[-0.44,-0.03],[-0.2,-0.07],[0.04,-0.04],[0.28,-0.08],[0.52,-0.04],[0.76,-0.07],[1.02,-0.03],
[-1.05,-0.22],[-0.8,-0.25],[-0.56,-0.22],[-0.32,-0.25],[-0.08,-0.21],[0.16,-0.25],[0.4,-0.22],[0.64,-0.25],[0.88,-0.23],
[-0.92,-0.4],[-0.68,-0.38],[-0.44,-0.41],[-0.2,-0.38],[0.04,-0.42],[0.26,-0.38],[0.5,-0.41],[0.74,-0.38],[0.92,-0.4],
[-0.86,-0.55],[-0.58,-0.56],[-0.34,-0.58],[-0.1,-0.55],[0.14,-0.58],[0.38,-0.55],[0.62,-0.58],[0.76,-0.56],
[-0.78,-0.73],[-0.5,-0.75],[-0.26,-0.73],[-0.02,-0.76],[0.22,-0.73],[0.46,-0.75],[0.7,-0.72],
[-0.62,-0.92],[-0.34,-0.93],[-0.05,-0.92],[0.24,-0.94],[0.52,-0.92],
[-1.25,1.35],[-1.0,1.32],[-0.72,1.33],[-0.44,1.32],[-1.1,1.52],[-0.85,1.5],[-0.55,1.48],[-1.2,1.7],[-0.9,1.68],[-0.6,1.68],[-1.05,1.88],[-0.75,1.87],[-0.46,1.86],
[-0.22,1.9],[0.0,1.78],[0.22,1.62],[0.42,1.62],[0.12,1.48],[0.33,1.45],[0.58,1.62],[0.62,1.45],[0.88,1.48],[0.2,1.2],[0.42,1.18],[0.6,1.2],[0.85,1.22],[-0.05,1.18],[-0.24,1.2],[-0.1,2.0],[0.12,1.96],[0.48,1.88],[0.68,1.98],[0.25,2.02],[0.55,2.12],[0.72,2.2],[0.3,2.32],[0.4,2.5],[0.08,2.42],[0.58,2.35],[0.88,2.45],[0.28,2.7],[0.12,2.85],[0.55,2.72]
];
const sampleD_right = [[1.67,2.83],[2.04,2.09],[2.48,2.0],[1.62,1.85],[1.99,1.41],[2.17,1.21],[1.34,1.57],[1.45,1.52],[1.21,1.5],[1.29,1.39],[1.43,1.33],[1.57,1.36],[1.69,1.36],[1.72,1.17],[1.42,1.21],[1.46,1.03],[1.37,0.92],[1.62,0.86],[1.78,0.79],[1.82,0.7],[2.27,0.83],[2.6,0.73],[2.66,0.84],[2.95,0.79],[1.57,0.51],[1.72,0.48],[1.79,0.38],[1.97,0.51],[2.07,0.33],[2.16,0.22],[2.27,0.22],[2.35,0.55],[2.46,0.35],[2.59,0.46],[2.52,0.22],[2.41,0.22],[1.77,0.16],[1.68,0.07],[1.94,0.18],[2.04,0.07],[2.17,0.06],[2.52,0.05],[2.64,-0.06],[2.36,-0.12],[1.76,-0.11],[1.85,-0.12],[1.97,-0.18],[1.56,-0.22],[1.58,-0.39],[1.34,-0.15],[1.32,-0.22],[2.34,-0.34],[2.29,-0.48],[2.49,-0.42],[2.91,-0.42],[2.65,-0.55],[1.84,-0.48],[2.24,-0.6],[1.82,-0.62],[1.4,-0.59],[1.49,-0.57],[1.99,-0.66],[2.11,-0.7],[2.69,-0.77],[2.49,-0.72],[2.5,-0.92],[1.85,-0.77],[1.7,-0.86],[1.84,-0.86],[1.4,-0.88],[2.11,-0.9],[2.25,-0.9],[3.07,-1.01],[1.64,-1.03],[1.67,-1.14],[1.54,-1.15],[1.97,-1.03],[2.06,-1.11],[2.16,-1.21],[1.99,-1.22],[2.34,-1.28],[2.49,-1.06],[2.66,-1.03],[2.77,-1.03],[2.74,-1.17],[2.7,-1.32],[2.61,-1.39],[2.51,-1.47],[2.59,-1.54],[2.66,-1.47],[2.41,-1.43],[2.74,-1.54],[2.04,-1.47],[1.88,-1.47],[2.21,-1.58],[2.34,-1.61],[2.72,-1.68],[2.8,-1.7],[2.14,-1.77],[0.87,-1.15],[1.23,-1.01],[1.14,-0.89],[1.05,-0.85],[1.02,-0.66],[0.99,-0.48],[0.72,-0.79],[0.84,-0.67],[1.1,0.95],[1.22,0.72],[1.18,0.45],[1.2,0.2],[1.12,-0.05],[1.15,-0.25],[1.25,-0.12],[1.05,-0.3],[1.1,1.28],[-0.28,4.65],[2.55,-1.4],[2.65,-1.58],[2.5,-1.55]];
const sampleD_stem = [[-2.0,-4.31],[-1.85,-5.05],[-2.58,-4.63],[-2.07,-5.13],[-2.54,-4.83],[-2.58,-4.92],[-2.69,-4.96],[-2.37,-4.93],[-2.27,-4.92],[-2.34,-5.02],[-2.39,-5.07],[-2.54,-5.07],[-2.46,-5.24],[-2.49,-5.31],[-2.29,-5.27],[-2.39,-5.44],[-2.3,-5.46],[-2.75,-5.41],[-2.46,-5.58],[-2.58,-5.79],[-2.6,-6.1],[-2.46,-6.63],[-2.5,-6.74],[-2.69,-6.7],[-2.78,-6.9],[-2.66,-7.47],[-2.73,-7.91],[-2.76,-8.0],[-2.7,-8.11],[-2.65,-8.26],[-2.49,-8.45],[-2.54,-8.56],[-2.73,-8.68]];
const sampleD_island = [[7.29,-4.45],[7.17,-4.66],[7.04,-4.87],[7.82,-4.84],[8.08,-5.24],[8.26,-5.56],[8.49,-5.91],[8.49,-5.85]];

const sampleB = [].concat(sampleB_top, sampleB_left, sampleB_upper, sampleB_lobe, sampleB_low, sampleB_right, sampleB_stem, sampleB_island);
const sampleC = [].concat(sampleC_upperLeft, sampleC_topMid, sampleC_right, sampleC_lobe, sampleC_stem, sampleC_island);
const sampleD = [].concat(sampleD_upperLeft, sampleD_left, sampleD_coreUpper, sampleD_coreLeftTop, sampleD_core, sampleD_coreFill, sampleD_right, sampleD_stem, sampleD_island);
const samples = [sampleB, sampleC, sampleD];
const legendRows = [423, 464, 505];

const pointTraces = samples.map((pts, i) => ({
  type: 'scatter', mode: 'markers', name: sampleNames[i], showlegend: false,
  x: pts.map(p => p[0]), y: pts.map(p => p[1]),
  marker: {color: sampleColors[i], size: 6.8, line: {width: 0}}
}));
const legendIds = ['legend', 'legend2', 'legend3'];
const legendTraces = sampleNames.map((n, i) => ({
  type: 'scatter', mode: 'markers', name: n, x: [null], y: [null], legend: legendIds[i],
  marker: {color: sampleColors[i], size: 16, line: {width: 5, color: sampleColors[i]}}
}));

const axisBase = {
  showgrid: false, zeroline: false, showline: true, linecolor: '#000', linewidth: 2.2,
  ticks: 'outside', ticklen: 7, tickwidth: 2.2, tickcolor: '#000',
  tickmode: 'array', tickfont: {family: 'Liberation Sans', size: 32, color: '#000'}
};
const layout = {
  width: 1344, height: 960, paper_bgcolor: '#fff', plot_bgcolor: '#fff',
  margin: {l: 125, r: 279, t: 92, b: 127},
  font: {family: 'Liberation Sans', color: '#000'},
  title: {text: titleText, font: {family: 'Liberation Sans', size: 42.6, weight: 700, color: '#000'},
          x: 595 / 1344, xanchor: 'center', y: 1 - 49 / 960, yanchor: 'middle'},
  xaxis: Object.assign({}, axisBase, {range: [-4.776, 9.254], tickvals: xTicks, ticktext: xTickLabels, ticklabelstandoff: -6,
    title: {text: xLabel, font: {family: 'Liberation Sans', size: 37, color: '#000'}, standoff: 12}}),
  yaxis: Object.assign({}, axisBase, {range: [-9.516, 6.77], tickvals: yTicks, ticktext: yTickLabels,
    title: {text: yLabel, font: {family: 'Liberation Sans', size: 37, color: '#000'}, standoff: 9}}),
  hovermode: false
};
legendIds.forEach((id, i) => {
  layout[id] = {x: 1.019, xanchor: 'left', y: 1 - (legendRows[i] - 92) / 741, yanchor: 'middle', itemsizing: 'trace', itemwidth: 68,
    font: {family: 'Liberation Sans', size: 32, color: '#000'}, bgcolor: 'rgba(0,0,0,0)'};
});
Plotly.newPlot('chart', pointTraces.concat(legendTraces), layout, {displayModeBar: false, staticPlot: true});
</script></body></html>
